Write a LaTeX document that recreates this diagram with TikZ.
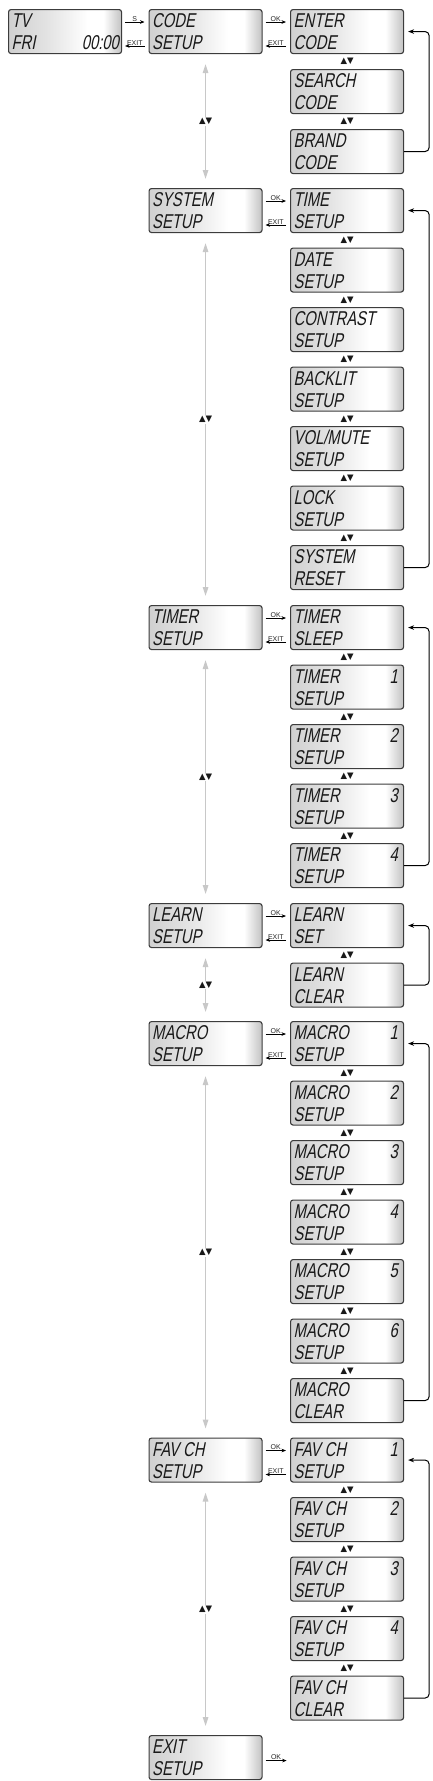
\documentclass[tikz,border=0pt]{standalone}
\usepackage{fontspec}
\usetikzlibrary{arrows.meta,calc}
\newfontfamily\lcdfont{Liberation Sans}[FakeSlant=0.2,FakeStretch=0.74]
\newfontfamily\lblfont{Liberation Sans}
\newfontfamily\symfont{DejaVu Sans}
\definecolor{lcdl}{HTML}{D0D0D0}
\definecolor{lcdr}{HTML}{C2C2C2}
\definecolor{edge}{HTML}{3C3C3C}
\definecolor{glin}{HTML}{C8C8C8}
\pgfdeclarehorizontalshading{lcdshade}{100bp}{color(0bp)=(lcdl); color(25bp)=(lcdl); color(42bp)=(lcdl!60!white); color(60bp)=(white); color(67bp)=(white); color(75bp)=(lcdr); color(100bp)=(lcdr)}
\tikzset{
  lcd/.style={draw=edge, line width=1.1pt, rounded corners=2.5pt, shading=lcdshade,
    minimum width=113pt, minimum height=44pt, inner sep=0pt, anchor=north west},
  lcdtxt/.style={font=\lcdfont\fontsize{20}{22}\selectfont, inner sep=0pt, text=black!90},
  harrow/.style={line width=0.6pt, -{Stealth[length=4.5pt,width=3.6pt]}},
  hlabel/.style={font=\lblfont\fontsize{7}{8}\selectfont, inner sep=0.6pt, text=black!85},
  gline/.style={draw=glin, line width=1.3pt,
    {Triangle[length=9pt,width=5.5pt]}-{Triangle[length=9pt,width=5.5pt]}},
  updown/.style={font=\symfont\fontsize{8.5}{9}\selectfont, fill=white, inner sep=1pt, text=black!90},
  updownr/.style={font=\symfont\fontsize{8.5}{9}\selectfont, inner sep=0pt, text=black!90},
  loopline/.style={line width=1pt, rounded corners=4pt, -{Stealth[length=6pt,width=4.5pt]}},
}
\newcommand\lcdbox[5]{%
  \node[lcd] (#1) at (#2,#3) {};
  \node[lcdtxt, anchor=base west] (#1-a) at ([shift={(3.5pt,-18.5pt)}]#1.north west) {#4};
  \node[lcdtxt, anchor=base west] (#1-b) at ([shift={(3.5pt,-40.5pt)}]#1.north west) {#5};}
\newcommand\lcdnum[2]{%
  \node[lcdtxt, anchor=base east] (#1-n) at ([shift={(-6pt,-18.5pt)}]#1.north east) {#2};}
\newcommand\okexit[3]{%
  \draw[harrow] ([shift={(3pt,-13pt)}]#1.north east) -- ([shift={(-4pt,-13pt)}]#2.north west)
    node[midway, above, hlabel] (#1-ok) {#3};
  \draw[harrow] ([shift={(-4pt,-37pt)}]#2.north west) -- ([shift={(3pt,-37pt)}]#1.north east)
    node[midway, above, hlabel] (#1-exit) {EXIT};}
\newcommand\loopback[2]{%
  \draw[loopline] (#2.east) -- ++(25pt,0pt) |- ([xshift=4pt]#1.east);}
\newcommand\gl[3]{%
  \draw[gline] ([yshift=-10pt]#1.south) -- ([yshift=9pt]#2.north)
    node[midway, updown] (#3) {▲▼};}
\newcommand\ud[3]{%
  \node[updownr] (#3) at ($(#1.south)!0.5!(#2.north)$) {▲▼};}
\begin{document}
\begin{tikzpicture}[x=1pt,y=-1pt]
\useasboundingbox (0,0) rectangle (432,1781);
% start
\lcdbox{tv}{8}{9}{TV}{FRI}
\node[lcdtxt, anchor=base east] (tv-n) at ([shift={(-3pt,-40.5pt)}]tv.north east) {00:00};
% section 1
\lcdbox{code}{148.5}{9}{CODE}{SETUP}
\lcdbox{enter}{290}{9}{ENTER}{CODE}
\lcdbox{search}{290}{69}{SEARCH}{CODE}
\lcdbox{brand}{290}{129}{BRAND}{CODE}
\okexit{tv}{code}{S}
\okexit{code}{enter}{OK}
\ud{enter}{search}{ud1a}
\ud{search}{brand}{ud1b}
\loopback{enter}{brand}
% section 2
\lcdbox{system}{148.5}{188}{SYSTEM}{SETUP}
\lcdbox{time}{290}{188}{TIME}{SETUP}
\lcdbox{date}{290}{247.5}{DATE}{SETUP}
\lcdbox{contrast}{290}{307}{CONTRAST}{SETUP}
\lcdbox{backlit}{290}{366.5}{BACKLIT}{SETUP}
\lcdbox{volmute}{290}{426}{VOL/MUTE}{SETUP}
\lcdbox{lock}{290}{485.5}{LOCK}{SETUP}
\lcdbox{sysreset}{290}{545}{SYSTEM}{RESET}
\okexit{system}{time}{OK}
\ud{time}{date}{ud2a}
\ud{date}{contrast}{ud2b}
\ud{contrast}{backlit}{ud2c}
\ud{backlit}{volmute}{ud2d}
\ud{volmute}{lock}{ud2e}
\ud{lock}{sysreset}{ud2f}
\loopback{time}{sysreset}
% section 3
\lcdbox{timer}{148.5}{605}{TIMER}{SETUP}
\lcdbox{tsleep}{290}{605}{TIMER}{SLEEP}
\lcdbox{tone}{290}{664.5}{TIMER}{SETUP}\lcdnum{tone}{1}
\lcdbox{ttwo}{290}{724}{TIMER}{SETUP}\lcdnum{ttwo}{2}
\lcdbox{tthree}{290}{783.5}{TIMER}{SETUP}\lcdnum{tthree}{3}
\lcdbox{tfour}{290}{843}{TIMER}{SETUP}\lcdnum{tfour}{4}
\okexit{timer}{tsleep}{OK}
\ud{tsleep}{tone}{ud3a}
\ud{tone}{ttwo}{ud3b}
\ud{ttwo}{tthree}{ud3c}
\ud{tthree}{tfour}{ud3d}
\loopback{tsleep}{tfour}
% section 4
\lcdbox{learn}{148.5}{903}{LEARN}{SETUP}
\lcdbox{lset}{290}{903}{LEARN}{SET}
\lcdbox{lclear}{290}{962.5}{LEARN}{CLEAR}
\okexit{learn}{lset}{OK}
\ud{lset}{lclear}{ud4a}
\loopback{lset}{lclear}
% section 5
\lcdbox{macro}{148.5}{1021}{MACRO}{SETUP}
\lcdbox{mone}{290}{1021}{MACRO}{SETUP}\lcdnum{mone}{1}
\lcdbox{mtwo}{290}{1080.5}{MACRO}{SETUP}\lcdnum{mtwo}{2}
\lcdbox{mthree}{290}{1140}{MACRO}{SETUP}\lcdnum{mthree}{3}
\lcdbox{mfour}{290}{1199.5}{MACRO}{SETUP}\lcdnum{mfour}{4}
\lcdbox{mfive}{290}{1259}{MACRO}{SETUP}\lcdnum{mfive}{5}
\lcdbox{msix}{290}{1318.5}{MACRO}{SETUP}\lcdnum{msix}{6}
\lcdbox{mclear}{290}{1378}{MACRO}{CLEAR}
\okexit{macro}{mone}{OK}
\ud{mone}{mtwo}{ud5a}
\ud{mtwo}{mthree}{ud5b}
\ud{mthree}{mfour}{ud5c}
\ud{mfour}{mfive}{ud5d}
\ud{mfive}{msix}{ud5e}
\ud{msix}{mclear}{ud5f}
\loopback{mone}{mclear}
% section 6
\lcdbox{fav}{148.5}{1437.5}{FAV CH}{SETUP}
\lcdbox{fone}{290}{1437.5}{FAV CH}{SETUP}\lcdnum{fone}{1}
\lcdbox{ftwo}{290}{1497}{FAV CH}{SETUP}\lcdnum{ftwo}{2}
\lcdbox{fthree}{290}{1556.5}{FAV CH}{SETUP}\lcdnum{fthree}{3}
\lcdbox{ffour}{290}{1616}{FAV CH}{SETUP}\lcdnum{ffour}{4}
\lcdbox{fclear}{290}{1675.5}{FAV CH}{CLEAR}
\okexit{fav}{fone}{OK}
\ud{fone}{ftwo}{ud6a}
\ud{ftwo}{fthree}{ud6b}
\ud{fthree}{ffour}{ud6c}
\ud{ffour}{fclear}{ud6d}
\loopback{fone}{fclear}
% section 7
\lcdbox{exit}{148.5}{1735}{EXIT}{SETUP}
\draw[harrow] ([shift={(3pt,-3pt)}]exit.east) -- ++(21pt,0pt) node[midway, above, hlabel] (exit-ok) {OK};
% gray vertical connectors
\gl{code}{system}{g1}
\gl{system}{timer}{g2}
\gl{timer}{learn}{g3}
\gl{learn}{macro}{g4}
\gl{macro}{fav}{g5}
\gl{fav}{exit}{g6}
\end{tikzpicture}
\end{document}
